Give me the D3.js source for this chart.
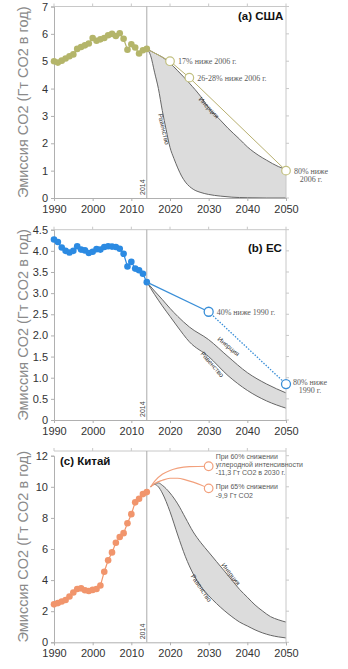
<!DOCTYPE html>
<html>
<head>
<meta charset="utf-8">
<script src="https://cdn.jsdelivr.net/npm/d3@7"></script>
<style>
  body { margin: 0; background: #fff; }
  svg { display: block; }
</style>
</head>
<body>
<div id="vis"></div>
<script>
// historical years (shared by all three panels)
var years = d3.range(1990, 2015);

// (a) USA, Gt CO2 per year
var usaHist = [5.0, 4.95, 5.02, 5.1, 5.18, 5.25, 5.45, 5.52, 5.58, 5.65, 5.85, 5.75, 5.8, 5.85, 5.95, 6.0, 5.92, 6.02, 5.82, 5.42, 5.62, 5.5, 5.28, 5.4, 5.45];
var usaTargetYears = [2014, 2020, 2025, 2050];
var usaTargets = [5.45, 5.0, 4.4, 1.0];
var usaInertiaYears = [2014, 2016, 2018, 2020, 2022, 2025, 2028, 2030, 2033, 2035, 2038, 2040, 2043, 2045, 2048, 2050];
var usaInertia = [5.45, 5.3, 5.15, 4.93, 4.65, 4.2, 3.7, 3.3, 2.85, 2.55, 2.15, 1.87, 1.55, 1.38, 1.15, 1.05];
var usaEqualityYears = [2014, 2015, 2016, 2017, 2018, 2019, 2020, 2021, 2022, 2023, 2024, 2026, 2028, 2030, 2033, 2036, 2040, 2045, 2050];
var usaEquality = [5.45, 5.2, 4.6, 4.0, 3.2, 2.5, 1.85, 1.45, 1.1, 0.8, 0.58, 0.32, 0.2, 0.13, 0.07, 0.03, 0.01, 0, 0];

// (b) EU
var euHist = [4.27, 4.21, 4.08, 4.0, 3.96, 4.0, 4.11, 4.03, 4.01, 3.95, 3.98, 4.04, 4.03, 4.09, 4.11, 4.1, 4.09, 4.05, 3.93, 3.63, 3.74, 3.58, 3.54, 3.46, 3.26];
var euTargetYears = [2014, 2030, 2050];
var euTargets = [3.26, 2.56, 0.85];
var euInertiaYears = [2014, 2016, 2018, 2020, 2022, 2025, 2030, 2035, 2040, 2045, 2050];
var euInertia = [3.26, 3.05, 2.85, 2.64, 2.45, 2.2, 1.9, 1.5, 1.12, 0.85, 0.64];
var euEqualityYears = [2014, 2016, 2018, 2020, 2022, 2025, 2030, 2035, 2040, 2045, 2050];
var euEquality = [3.26, 2.97, 2.7, 2.45, 2.2, 1.85, 1.5, 1.05, 0.7, 0.45, 0.28];

// (c) China
var chinaHist = [2.44, 2.52, 2.62, 2.72, 2.95, 3.2, 3.43, 3.47, 3.35, 3.3, 3.37, 3.43, 3.65, 4.54, 5.27, 5.78, 6.4, 6.77, 7.02, 7.66, 8.24, 9.0, 9.23, 9.53, 9.66];
var chinaHighYears = [2014, 2015, 2016, 2018, 2020, 2022, 2025, 2030];
var chinaHigh = [9.66, 10.0, 10.35, 10.8, 11.05, 11.2, 11.3, 11.32];
var chinaLowYears = [2014, 2015, 2016, 2018, 2020, 2022, 2024, 2026, 2028, 2030];
var chinaLow = [9.66, 10.0, 10.2, 10.42, 10.55, 10.55, 10.45, 10.3, 10.12, 9.9];
var chinaInertiaYears = [2015, 2016, 2017, 2018, 2020, 2022, 2024, 2026, 2028, 2030, 2032, 2034, 2036, 2038, 2040, 2042, 2044, 2046, 2048, 2050];
var chinaInertia = [10.0, 10.2, 10.25, 10.1, 9.6, 8.9, 8.0, 7.1, 6.4, 5.8, 5.2, 4.6, 4.0, 3.4, 2.9, 2.4, 2.0, 1.65, 1.45, 1.3];
var chinaEqualityYears = [2015, 2016, 2017, 2018, 2020, 2022, 2024, 2026, 2028, 2030, 2032, 2034, 2036, 2038, 2040, 2042, 2044, 2046, 2048, 2050];
var chinaEquality = [10.0, 10.15, 10.0, 9.6, 8.4, 6.9, 5.5, 4.4, 3.6, 3.0, 2.5, 2.05, 1.65, 1.3, 1.05, 0.8, 0.6, 0.45, 0.35, 0.28];

var xTicks = [1990, 2000, 2010, 2020, 2030, 2040, 2050];
var yLabel = "Эмиссия CO2 (Гт CO2 в год)";

var W = 348, H = 669;
var svg = d3.select("#vis").append("svg").attr("width", W).attr("height", H);

var zip = (xs, ys) => xs.map((x, i) => [x, ys[i]]);

// draws one panel; everything positioned through the scales
function panel(cfg) {
  var x = d3.scaleLinear().domain([1990, 2050]).range([54, 286]);
  var y = d3.scaleLinear().domain(cfg.yDomain).range(cfg.yRange);
  var g = svg.append("g");
  var top = cfg.frameTop;

  // shaded band between the two scenario curves
  var upPts = zip(cfg.inertiaYears, cfg.inertia);
  var loPts = zip(cfg.equalityYears, cfg.equality);
  var curve = d3.line().x(d => x(d[0])).y(d => y(d[1])).curve(d3.curveMonotoneX);
  var bandYears = d3.range(cfg.inertiaYears[0], 2050.01, 0.25);

  // sample a drawn curve so the band follows the same smooth shape
  function sampler(pts) {
    var node = g.append("path").attr("d", curve(pts)).attr("fill", "none").node();
    var L = node.getTotalLength(), s = [];
    for (var i = 0; i <= 400; i++) {
      var p = node.getPointAtLength(L * i / 400);
      s.push([x.invert(p.x), y.invert(p.y)]);
    }
    node.remove();
    return function (yr) {
      var j = d3.bisector(d => d[0]).left(s, yr);
      if (j <= 0) return s[0][1];
      if (j >= s.length) return s[s.length - 1][1];
      var a = s[j - 1], b = s[j], t = (yr - a[0]) / ((b[0] - a[0]) || 1);
      return a[1] + (b[1] - a[1]) * t;
    };
  }
  var su = sampler(upPts), sl = sampler(loPts);
  var area = d3.area().x(d => x(d[0])).y0(d => y(d[1])).y1(d => y(d[2]));
  g.append("path")
    .datum(bandYears.map(yr => [yr, sl(yr), su(yr)]))
    .attr("d", area)
    .attr("fill", "#dcdcdc");
  g.append("path").attr("d", curve(upPts)).attr("fill", "none").attr("stroke", "#666").attr("stroke-width", 1);
  g.append("path").attr("d", curve(loPts)).attr("fill", "none").attr("stroke", "#666").attr("stroke-width", 1);

  // frame: top and right light lines with ticks
  g.append("line").attr("x1", x(1990)).attr("x2", x(2050)).attr("y1", top).attr("y2", top).attr("stroke", "#c8c8c8");
  g.append("line").attr("x1", x(2050)).attr("x2", x(2050)).attr("y1", top).attr("y2", y(0)).attr("stroke", "#c8c8c8");
  g.selectAll(".rt").data(cfg.yTicks).enter().append("line")
    .attr("x1", x(2050)).attr("x2", x(2050) + 3).attr("y1", d => y(d)).attr("y2", d => y(d)).attr("stroke", "#c8c8c8");
  g.selectAll(".tt").data(xTicks).enter().append("line")
    .attr("x1", d => x(d)).attr("x2", d => x(d)).attr("y1", top).attr("y2", top - 3).attr("stroke", "#c8c8c8");

  // 2014 marker
  g.append("line").attr("x1", x(2014)).attr("x2", x(2014)).attr("y1", top).attr("y2", y(0)).attr("stroke", "#aaa");
  g.append("text").attr("transform", `translate(${x(2014) - 2},${y(0) - 3}) rotate(-90)`)
    .attr("font-family", "Liberation Sans, Arial, sans-serif").attr("font-size", 7).attr("fill", "#444").text("2014");

  // axes
  var xa = g.append("g").attr("transform", `translate(0,${y(0)})`)
    .call(d3.axisBottom(x).tickValues(xTicks).tickFormat(d3.format("d")).tickSize(3).tickPadding(4));
  var ya = g.append("g").attr("transform", `translate(${x(1990)},0)`)
    .call(d3.axisLeft(y).tickValues(cfg.yTicks).tickFormat(cfg.fmt).tickSize(3).tickPadding(3));
  [xa, ya].forEach(a => {
    a.select(".domain").attr("stroke", "#b0b0b0");
    a.selectAll(".tick line").attr("stroke", "#b0b0b0");
    a.selectAll("text").attr("font-family", "Liberation Sans, Arial, sans-serif").attr("font-size", 11).attr("fill", "#333");
  });

  // y label
  g.append("text")
    .attr("transform", `translate(28,${(top + y(0)) / 2}) rotate(-90)`)
    .attr("text-anchor", "middle")
    .attr("font-family", "Liberation Sans, Arial, sans-serif").attr("font-size", 14.5).attr("fill", "#8a8a8a")
    .text(yLabel);

  // band labels
  cfg.bandLabels.forEach(b => {
    g.append("text")
      .attr("transform", `translate(${x(b.yr)},${y(b.v)}) rotate(${b.rot})`)
      .attr("text-anchor", "middle")
      .attr("font-family", "Liberation Sans, Arial, sans-serif").attr("font-size", 6.5).attr("fill", "#333")
      .text(b.t);
  });

  // history line and dots
  var hist = zip(years, cfg.hist);
  var line = d3.line().x(d => x(d[0])).y(d => y(d[1]));
  g.append("path").datum(hist).attr("d", line).attr("fill", "none").attr("stroke", cfg.color).attr("stroke-width", 1.2);
  g.selectAll(".dot").data(hist).enter().append("circle")
    .attr("cx", d => x(d[0])).attr("cy", d => y(d[1])).attr("r", 3.3).attr("fill", cfg.color);

  // targets
  cfg.targets(g, x, y);

  // title
  g.append("text").attr("x", cfg.title.x).attr("y", cfg.title.y)
    .attr("font-family", "Liberation Sans, Arial, sans-serif").attr("font-size", 11.5).attr("font-weight", "bold").attr("fill", "#111")
    .text(cfg.title.t);
}

function note(g, px, py, lines, opt) {
  var t = g.append("text").attr("x", px).attr("y", py)
    .attr("font-family", opt.font).attr("font-size", opt.size).attr("fill", "#5a5a5a")
    .attr("text-anchor", opt.anchor || "start");
  lines.forEach((s, i) => t.append("tspan").attr("x", px).attr("dy", i ? opt.lh : 0).text(s));
}

var serif = { font: "Liberation Serif, Times New Roman, serif", size: 8, lh: 8 };

// (a) USA
var olive = "#b4b56a";
panel({
  yDomain: [0, 7], yRange: [198, 6.5], frameTop: 6.5,
  yTicks: d3.range(0, 8), fmt: d3.format("d"),
  hist: usaHist, color: olive,
  inertiaYears: usaInertiaYears, inertia: usaInertia,
  equalityYears: usaEqualityYears, equality: usaEquality,
  bandLabels: [{ yr: 2029.6, v: 3.25, rot: 47, t: "Инерция" }, { yr: 2017.8, v: 2.5, rot: 77, t: "Равенство" }],
  title: { x: 238, y: 20, t: "(a) США" },
  targets: function (g, x, y) {
    var pts = zip(usaTargetYears, usaTargets);
    g.append("path").datum(pts).attr("d", d3.line().x(d => x(d[0])).y(d => y(d[1])))
      .attr("fill", "none").attr("stroke", "#b8b070").attr("stroke-width", 1);
    g.selectAll(".tg").data(pts.slice(1)).enter().append("circle")
      .attr("cx", d => x(d[0])).attr("cy", d => y(d[1])).attr("r", 4.3)
      .attr("fill", "#fff").attr("stroke", "#c2c080").attr("stroke-width", 1.2);
    note(g, x(2020) + 8, y(5.0) + 3, ["17% ниже 2006 г."], serif);
    note(g, x(2025) + 8, y(4.4) + 3, ["26-28% ниже 2006 г."], serif);
    note(g, x(2050) + 25, y(1.0) + 3, ["80% ниже", "2006 г."], Object.assign({ anchor: "middle" }, serif));
  }
});

// (b) EU
var blue = "#2b8ae2";
panel({
  yDomain: [0, 4.5], yRange: [420, 229.7], frameTop: 229.7,
  yTicks: d3.range(0, 4.51, 0.5), fmt: d => d === 0 ? "0" : d3.format(".1f")(d),
  hist: euHist, color: blue,
  inertiaYears: euInertiaYears, inertia: euInertia,
  equalityYears: euEqualityYears, equality: euEquality,
  bandLabels: [{ yr: 2034.8, v: 1.7, rot: 40, t: "Инерция" }, { yr: 2030.5, v: 1.28, rot: 49, t: "Равенство" }],
  title: { x: 248, y: 252, t: "(b) EC" },
  targets: function (g, x, y) {
    var pts = zip(euTargetYears, euTargets);
    var line = d3.line().x(d => x(d[0])).y(d => y(d[1]));
    g.append("path").datum(pts.slice(0, 2)).attr("d", line)
      .attr("fill", "none").attr("stroke", "#3a8fd8").attr("stroke-width", 1.3);
    g.append("path").datum(pts.slice(1)).attr("d", line)
      .attr("fill", "none").attr("stroke", "#3a8fd8").attr("stroke-width", 1.3).attr("stroke-dasharray", "1.5,1.5");
    g.selectAll(".tg").data(pts.slice(1)).enter().append("circle")
      .attr("cx", d => x(d[0])).attr("cy", d => y(d[1])).attr("r", 4.5)
      .attr("fill", "#fff").attr("stroke", "#3a8fd8").attr("stroke-width", 1.3);
    note(g, x(2030) + 8, y(2.56) + 3, ["40% ниже 1990 г."], serif);
    note(g, x(2050) + 24, y(0.85) + 1, ["80% ниже", "1990 г."], Object.assign({ anchor: "middle" }, serif));
  }
});

// (c) China
var orange = "#f1956c";
panel({
  yDomain: [0, 12], yRange: [642.3, 455.7], frameTop: 451,
  yTicks: d3.range(0, 13, 2), fmt: d3.format("d"),
  hist: chinaHist, color: orange,
  inertiaYears: chinaInertiaYears, inertia: chinaInertia,
  equalityYears: chinaEqualityYears, equality: chinaEquality,
  bandLabels: [{ yr: 2035.3, v: 4.3, rot: 52, t: "Инерция" }, { yr: 2027.6, v: 3.4, rot: 56, t: "Равенство" }],
  title: { x: 60, y: 465, t: "(c) Китай" },
  targets: function (g, x, y) {
    var line = d3.line().x(d => x(d[0])).y(d => y(d[1])).curve(d3.curveMonotoneX);
    [zip(chinaHighYears, chinaHigh), zip(chinaLowYears, chinaLow)].forEach(pts => {
      g.append("path").datum(pts.slice(1)).attr("d", line)
        .attr("fill", "none").attr("stroke", "#f2a07c").attr("stroke-width", 1.2);
      var end = pts[pts.length - 1];
      g.append("circle").attr("cx", x(end[0])).attr("cy", y(end[1])).attr("r", 4.3)
        .attr("fill", "#fff").attr("stroke", "#f2a07c").attr("stroke-width", 1.2);
    });
    var sans = { font: "Liberation Sans, Arial, sans-serif", size: 7, lh: 8.4 };
    note(g, x(2030) + 7, y(11.3) - 8, ["При 60% снижении", "углеродной интенсивности", "-11,3 Гт CO2 в 2030 г."], sans);
    note(g, x(2030) + 7, y(9.9) + 1, ["При 65% снижении", "-9,9 Гт CO2"], sans);
  }
});
</script>
</body>
</html>
